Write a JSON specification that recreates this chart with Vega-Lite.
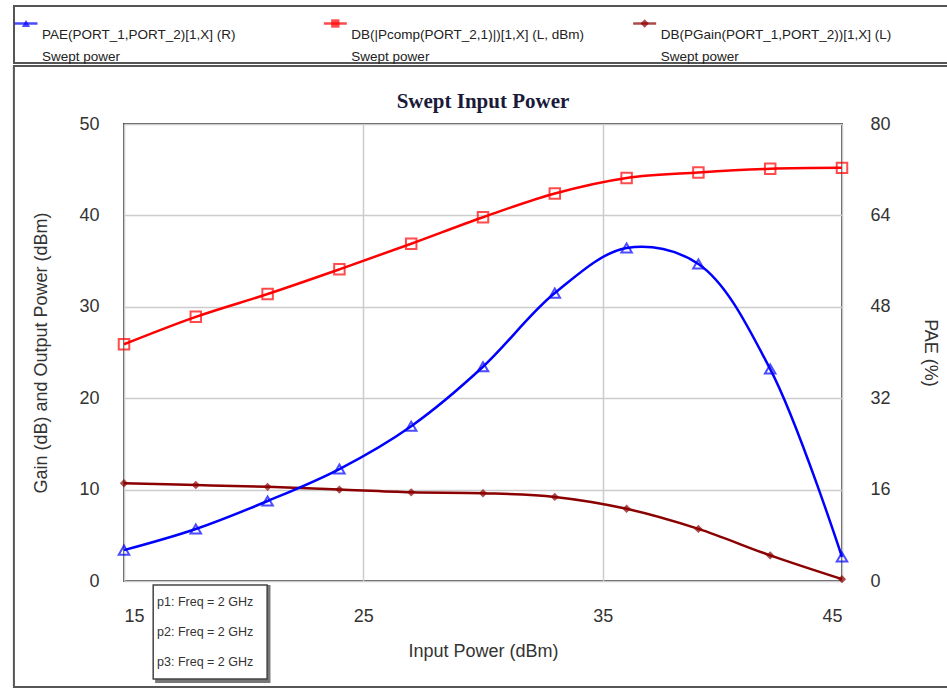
{
  "$schema": "https://vega.github.io/schema/vega-lite/v6.json",
  "padding": {"left": 9, "top": 5, "right": 5, "bottom": 1},
  "background": "white",
  "config": {
    "font": "Liberation Sans",
    "view": {"stroke": "#555", "strokeWidth": 2}
  },
  "spacing": 0,
  "vconcat": [
    {
      "width": 818,
      "height": 57,
      "view": {"stroke": null},
      "layer": [
        {
          "data": {"values": [{"frame": "legend"}]},
          "mark": {"type": "rect", "fill": null, "stroke": "#555", "strokeWidth": 2},
          "encoding": {
            "x": {"field": "frame", "type": "nominal", "axis": null,
                  "scale": {"type": "band", "range": [-110, 833], "paddingInner": 0, "paddingOuter": 0}}
          }
        },
        {
          "data": {"values": [
            {"series": "PAE", "text": "PAE(PORT_1,PORT_2)[1,X] (R)\nSwept power"},
            {"series": "Pout", "text": "DB(|Pcomp(PORT_2,1)|)[1,X] (L, dBm)\nSwept power"},
            {"series": "Gain", "text": "DB(PGain(PORT_1,PORT_2))[1,X] (L)\nSwept power"}
          ]},
          "encoding": {
            "x": {"field": "series", "type": "nominal", "sort": null, "bandPosition": 0,
                  "scale": {"type": "band", "range": [-110, 818], "paddingInner": 0, "paddingOuter": 0}, "axis": null},
            "color": {"field": "series", "type": "nominal", "legend": null,
                      "scale": {"domain": ["PAE", "Pout", "Gain"], "range": ["#0000ff", "#ff0000", "#8b0000"]}}
          },
          "layer": [
            {"mark": {"type": "point", "shape": "M-1,0L1,0", "size": 529, "strokeWidth": 2.5, "xOffset": 12, "yOffset": -11, "filled": false}},
            {"mark": {"type": "point", "filled": true, "size": 70, "xOffset": 12, "yOffset": -11}, "encoding": {
              "shape": {"field": "series", "type": "nominal", "legend": null,
                        "scale": {"domain": ["PAE", "Pout", "Gain"], "range": ["triangle-up", "square", "diamond"]}}
            }},
            {"mark": {"type": "text", "align": "left", "baseline": "middle", "fontSize": 13.5, "lineHeight": 22, "xOffset": 28, "lineBreak": "\n"},
             "encoding": {"text": {"field": "text"}, "color": {"value": "#222"}}}
          ]
        }
      ],
      "resolve": {"scale": {"x": "independent"}}
    },
    {
      "width": 718,
      "height": 457,
      "title": {"text": "Swept Input Power", "font": "Liberation Serif", "fontSize": 21, "fontWeight": "bold", "color": "#1a1a3a", "offset": -47},
      "layer": [
        {
          "data": {"values": [
            {"pin": 15, "value": 25.9, "series": "Pout"},
            {"pin": 18, "value": 28.9, "series": "Pout"},
            {"pin": 21, "value": 31.4, "series": "Pout"},
            {"pin": 24, "value": 34.1, "series": "Pout"},
            {"pin": 27, "value": 36.9, "series": "Pout"},
            {"pin": 30, "value": 39.8, "series": "Pout"},
            {"pin": 33, "value": 42.4, "series": "Pout"},
            {"pin": 36, "value": 44.1, "series": "Pout"},
            {"pin": 39, "value": 44.7, "series": "Pout"},
            {"pin": 42, "value": 45.1, "series": "Pout"},
            {"pin": 45, "value": 45.2, "series": "Pout"},
            {"pin": 15, "value": 10.7, "series": "Gain"},
            {"pin": 18, "value": 10.5, "series": "Gain"},
            {"pin": 21, "value": 10.3, "series": "Gain"},
            {"pin": 24, "value": 10.0, "series": "Gain"},
            {"pin": 27, "value": 9.7, "series": "Gain"},
            {"pin": 30, "value": 9.6, "series": "Gain"},
            {"pin": 33, "value": 9.2, "series": "Gain"},
            {"pin": 36, "value": 7.9, "series": "Gain"},
            {"pin": 39, "value": 5.7, "series": "Gain"},
            {"pin": 42, "value": 2.8, "series": "Gain"},
            {"pin": 45, "value": 0.2, "series": "Gain"}
          ]},
          "encoding": {
            "x": {"field": "pin", "type": "quantitative",
                  "scale": {"domain": [15, 45], "nice": false, "zero": false},
                  "axis": {"values": [15, 25, 35, 45], "title": "Input Power (dBm)", "titleFontSize": 18, "titleFontWeight": "normal", "titleColor": "#333", "titlePadding": 17,
                           "labelFontSize": 18, "labelColor": "#333", "labelPadding": 26, "ticks": false, "domain": false,
                           "grid": true, "gridColor": "#ccc", "gridWidth": 1.5}},
            "y": {"field": "value", "type": "quantitative",
                  "scale": {"domain": [0, 50], "nice": false},
                  "axis": {"orient": "left", "values": [0, 10, 20, 30, 40, 50], "title": "Gain (dB) and Output Power (dBm)", "titleFontSize": 18, "titleFontWeight": "normal", "titleColor": "#333", "titlePadding": 28,
                           "labelFontSize": 18, "labelColor": "#333", "labelPadding": 25, "ticks": false, "domain": false,
                           "grid": true, "gridColor": "#ccc", "gridWidth": 1.5}},
            "color": {"field": "series", "type": "nominal", "legend": null,
                      "scale": {"domain": ["PAE", "Pout", "Gain"], "range": ["#0000ff", "#ff0000", "#8b0000"]}}
          },
          "layer": [
            {"mark": {"type": "line", "interpolate": "catmull-rom", "strokeWidth": 2.5}},
            {"mark": {"type": "point", "filled": false, "size": 110, "strokeWidth": 2}, "transform": [{"filter": "datum.series == 'Pout'"}], "encoding": {"shape": {"value": "square"}}},
            {"mark": {"type": "point", "filled": true, "size": 70, "strokeWidth": 1}, "transform": [{"filter": "datum.series == 'Gain'"}], "encoding": {"shape": {"value": "diamond"}}}
          ]
        },
        {
          "data": {"values": [
            {"pin": 15, "pae": 5.4, "series": "PAE"},
            {"pin": 18, "pae": 9.1, "series": "PAE"},
            {"pin": 21, "pae": 14.0, "series": "PAE"},
            {"pin": 24, "pae": 19.6, "series": "PAE"},
            {"pin": 27, "pae": 27.1, "series": "PAE"},
            {"pin": 30, "pae": 37.5, "series": "PAE"},
            {"pin": 33, "pae": 50.4, "series": "PAE"},
            {"pin": 36, "pae": 58.3, "series": "PAE"},
            {"pin": 39, "pae": 55.5, "series": "PAE"},
            {"pin": 42, "pae": 37.1, "series": "PAE"},
            {"pin": 45, "pae": 4.2, "series": "PAE"}
          ]},
          "encoding": {
            "x": {"field": "pin", "type": "quantitative", "scale": {"domain": [15, 45], "nice": false, "zero": false}},
            "y": {"field": "pae", "type": "quantitative",
                  "scale": {"domain": [0, 80], "nice": false},
                  "axis": {"orient": "right", "values": [0, 16, 32, 48, 64, 80], "title": "PAE (%)", "titleFontSize": 18, "titleFontWeight": "normal", "titleColor": "#333", "titlePadding": 30,
                           "labelFontSize": 18, "labelColor": "#333", "labelPadding": 28, "ticks": false, "domain": false, "grid": false}},
            "color": {"value": "#0000ff"}
          },
          "layer": [
            {"mark": {"type": "line", "interpolate": "catmull-rom", "strokeWidth": 2.5}},
            {"mark": {"type": "point", "filled": false, "size": 110, "strokeWidth": 2, "shape": "triangle-up"}}
          ]
        },
        {
          "data": {"values": [{"box": "shadow"}]},
          "mark": {"type": "rect", "fill": "#777", "stroke": null},
          "encoding": {
            "x": {"datum": 16.3, "type": "quantitative", "scale": {"domain": [15, 45], "nice": false, "zero": false}},
            "x2": {"datum": 21.12},
            "y": {"field": "box", "type": "nominal", "axis": null,
                  "scale": {"type": "band", "range": [461, 559], "paddingInner": 0, "paddingOuter": 0}}
          }
        },
        {
          "data": {"values": [{"box": "notes"}]},
          "mark": {"type": "rect", "fill": "white", "stroke": "#444", "strokeWidth": 1.5},
          "encoding": {
            "x": {"datum": 16.22, "type": "quantitative", "scale": {"domain": [15, 45], "nice": false, "zero": false}},
            "x2": {"datum": 20.98},
            "y": {"field": "box", "type": "nominal", "axis": null,
                  "scale": {"type": "band", "range": [461, 555], "paddingInner": 0, "paddingOuter": 0}}
          }
        },
        {
          "data": {"values": [
            {"note": "p1: Freq = 2 GHz"},
            {"note": "p2: Freq = 2 GHz"},
            {"note": "p3: Freq = 2 GHz"}
          ]},
          "mark": {"type": "text", "align": "left", "baseline": "middle", "fontSize": 12.5, "color": "#333"},
          "encoding": {
            "x": {"datum": 16.38, "type": "quantitative", "scale": {"domain": [15, 45], "nice": false, "zero": false}},
            "y": {"field": "note", "type": "nominal", "axis": null, "scale": {"type": "point", "padding": 0, "range": [478, 538]}},
            "text": {"field": "note"}
          }
        },
        {
          "data": {"values": [{"frame": "plot"}]},
          "mark": {"type": "rect", "fill": null, "stroke": "#555", "strokeWidth": 2},
          "encoding": {
            "x": {"datum": 10.4, "type": "quantitative", "scale": {"domain": [15, 45], "nice": false, "zero": false}},
            "x2": {"datum": 49.75},
            "y": {"field": "frame", "type": "nominal", "axis": null,
                  "scale": {"type": "band", "range": [-58, 563], "paddingInner": 0, "paddingOuter": 0}}
          }
        }
      ],
      "resolve": {"scale": {"y": "independent"}}
    }
  ]
}
